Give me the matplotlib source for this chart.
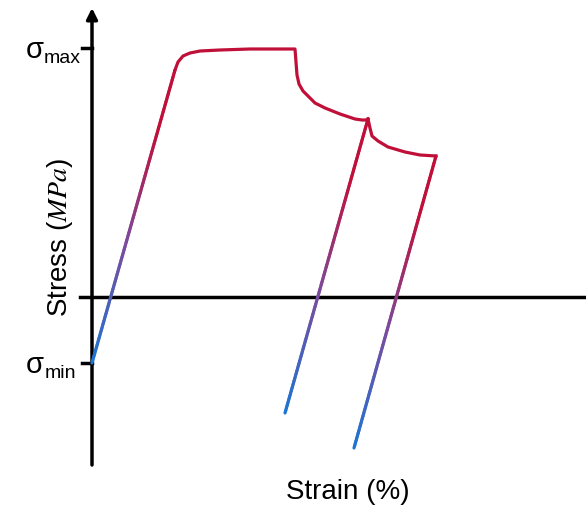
import numpy as np
import matplotlib
matplotlib.use('Agg')
import matplotlib.pyplot as plt
from matplotlib.collections import LineCollection
from matplotlib.colors import LinearSegmentedColormap

plt.rcParams['font.family'] = ['Liberation Sans', 'DejaVu Sans']
plt.rcParams['mathtext.fontset'] = 'stix'

# stress-strain path (strain in %, stress in MPa)
sigma_max = 498
sigma_min = -132

# elastic loading from sigma_min
load_strain = [0.0, 1.66]
load_stress = [sigma_min, 454]

# plastic plateau and first softening drop
plastic1_strain = [1.66, 1.72, 1.82, 1.96, 2.16, 2.56, 3.16, 4.06, 4.08, 4.10, 4.14,
                   4.22, 4.46, 4.66, 4.96, 5.26, 5.40, 5.50, 5.52]
plastic1_stress = [454, 470, 482, 488, 492, 494, 496, 496, 470, 444, 426,
                   412, 388, 378, 366, 356, 354, 354, 356]

# first unloading
unload1_strain = [3.86, 5.52]
unload1_stress = [-232, 356]

# second softening branch after reloading
plastic2_strain = [5.52, 5.56, 5.60, 5.72, 5.92, 6.26, 6.56, 6.88]
plastic2_stress = [356, 338, 322, 312, 300, 290, 284, 282]

# second unloading
unload2_strain = [5.24, 6.88]
unload2_stress = [-302, 282]

red = '#c0103a'
cmap = LinearSegmentedColormap.from_list(
    'elastic', [(0.0, '#1c76d2'), (0.4, '#7a4c9f'), (0.8, red), (1.0, red)])

fig = plt.figure(figsize=(5.86, 5.09), dpi=100)
ax = fig.add_axes([0, 0, 1, 1])
ax.set_xlim(-1.84, 9.88)
ax.set_ylim(-424, 594)
ax.axis('off')


def gradient_line(xs, ys):
    t = np.linspace(0, 1, 120)
    px = xs[0] + (xs[1] - xs[0]) * t
    py = ys[0] + (ys[1] - ys[0]) * t
    pts = np.column_stack([px, py]).reshape(-1, 1, 2)
    segs = np.concatenate([pts[:-1], pts[1:]], axis=1)
    lc = LineCollection(segs, cmap=cmap, linewidth=2.3, capstyle='round', zorder=3)
    lc.set_array(t[:-1])
    ax.add_collection(lc)


# axes
ax.plot([-0.24, 9.88], [0, 0], color='black', lw=2.5, zorder=2)
ax.annotate('', xy=(0, 578), xytext=(0, -336),
            arrowprops=dict(arrowstyle='-|>', color='black', lw=2.5,
                            mutation_scale=16, shrinkA=0, shrinkB=0), zorder=2)
ax.plot([-0.2, 0], [sigma_max, sigma_max], color='black', lw=2.5, zorder=2)
ax.plot([-0.2, 0], [sigma_min, sigma_min], color='black', lw=2.5, zorder=2)

# curves
gradient_line(load_strain, load_stress)
gradient_line(unload1_strain, unload1_stress)
gradient_line(unload2_strain, unload2_stress)
ax.plot(plastic1_strain, plastic1_stress, color=red, lw=2.3, solid_joinstyle='round', zorder=3)
ax.plot(plastic2_strain, plastic2_stress, color=red, lw=2.3, solid_joinstyle='round', zorder=3)

# sigma labels
for val, sub, sub_dx in [(sigma_max, 'max', -48), (sigma_min, 'min', -47)]:
    ax.annotate('σ', xy=(0, val), xytext=(-66, -10), textcoords='offset pixels',
                fontsize=21, ha='left', va='baseline')
    ax.annotate(sub, xy=(0, val), xytext=(sub_dx, -15), textcoords='offset pixels',
                fontsize=14, ha='left', va='baseline')

fig.text(60 / 586, 1 - 237 / 509, 'Stress ($MPa$)', rotation=90, fontsize=20,
         ha='center', va='center')
fig.text(348 / 586, 1 - 492 / 509, 'Strain (%)', fontsize=20, ha='center', va='center')

fig.savefig('out.png', dpi=100)
